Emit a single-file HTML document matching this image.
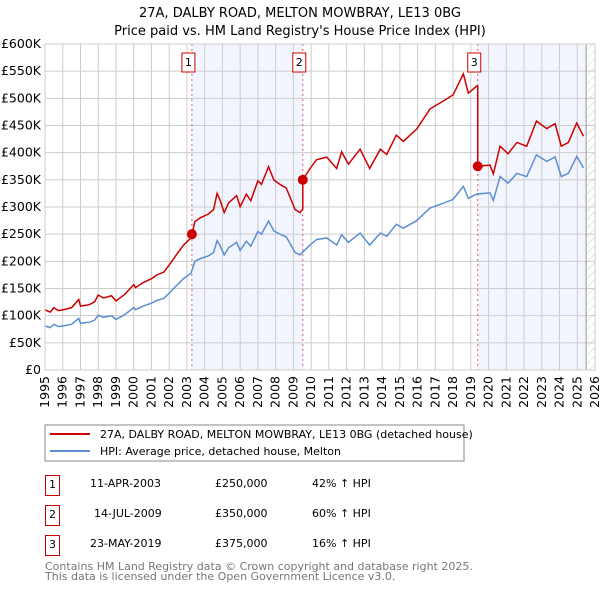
<!DOCTYPE html>
<html><head><meta charset="utf-8"><style>
body{margin:0;background:#fff;font-family:"DejaVu Sans","Liberation Sans",sans-serif;}
svg text{font-family:"DejaVu Sans","Liberation Sans",sans-serif;}
</style></head><body>
<svg id="c" width="600" height="590" xmlns="http://www.w3.org/2000/svg">
<defs><pattern id="hatch" width="6" height="6" patternUnits="userSpaceOnUse" patternTransform="rotate(45)"><line x1="0" y1="0" x2="0" y2="6" stroke="#ccc" stroke-width="1"/></pattern></defs>
<text x="300" y="17" text-anchor="middle" font-size="13">27A, DALBY ROAD, MELTON MOWBRAY, LE13 0BG</text>
<text x="300" y="35" text-anchor="middle" font-size="13">Price paid vs. HM Land Registry's House Price Index (HPI)</text>
<g id="plot"></g>
<rect x="45" y="425" width="419" height="36" fill="#fff" stroke="#888"/>
<line x1="50" y1="434" x2="90" y2="434" stroke="#cc0000" stroke-width="2"/>
<text x="100" y="438" font-size="11">27A, DALBY ROAD, MELTON MOWBRAY, LE13 0BG (detached house)</text>
<line x1="50" y1="451" x2="90" y2="451" stroke="#5b8fd0" stroke-width="2"/>
<text x="100" y="455" font-size="11">HPI: Average price, detached house, Melton</text>
<g font-size="11">
<rect x="45.5" y="475.5" width="14" height="20" fill="none" stroke="#cc0000"/><text x="52.5" y="488" text-anchor="middle">1</text>
<text x="90" y="487">11-APR-2003</text><text x="215" y="487">£250,000</text><text x="312" y="487">42% ↑ HPI</text>
<rect x="45.5" y="505.5" width="14" height="20" fill="none" stroke="#cc0000"/><text x="52.5" y="518" text-anchor="middle">2</text>
<text x="94" y="517">14-JUL-2009</text><text x="215" y="517">£350,000</text><text x="312" y="517">60% ↑ HPI</text>
<rect x="45.5" y="535.5" width="14" height="20" fill="none" stroke="#cc0000"/><text x="52.5" y="548" text-anchor="middle">3</text>
<text x="90" y="547">23-MAY-2019</text><text x="215" y="547">£375,000</text><text x="312" y="547">16% ↑ HPI</text>
</g>
<text x="45" y="570" font-size="11" fill="#777">Contains HM Land Registry data © Crown copyright and database right 2025.</text>
<text x="45" y="580" font-size="11" fill="#777">This data is licensed under the Open Government Licence v3.0.</text>
</svg>
<script>
const hpiYears=[1995.0,1995.3,1995.5,1995.75,1996.0,1996.5,1996.9,1997.0,1997.5,1997.8,1998.0,1998.3,1998.75,1999.0,1999.5,2000.0,2000.1,2000.55,2001.0,2001.3,2001.7,2002.05,2002.4,2002.8,2003.23,2003.45,2003.75,2004.2,2004.5,2004.7,2004.85,2005.1,2005.35,2005.8,2006.0,2006.35,2006.6,2007.0,2007.2,2007.6,2007.9,2008.25,2008.6,2009.1,2009.37,2009.94,2010.3,2010.88,2011.44,2011.72,2012.1,2012.76,2013.3,2013.9,2014.26,2014.8,2015.2,2015.95,2016.7,2017.45,2018.0,2018.58,2018.86,2019.33,2020.08,2020.27,2020.65,2021.1,2021.6,2022.15,2022.7,2023.28,2023.75,2024.1,2024.5,2024.97,2025.35];
const hpiValues=[81,78,84,80,81,84,95,86,88,92,101,97,100,93,102,115,111,118,123,128,132,143,155,168,178,200,205,210,216,238,230,212,225,235,220,237,228,255,250,274,256,250,245,216,212,230,240,243,230,249,235,252,230,252,246,268,261,275,298,307,314,338,316,324,326,312,356,344,362,356,396,384,392,356,362,393,372];
const saleYears=[2003.28,2009.53,2019.39];
const salePrices=[250,350,375];
const saleLabels=["1","2","3"];
const yTicks=[0,50,100,150,200,250,300,350,400,450,500,550,600];
const yTickLabels=["£0","£50K","£100K","£150K","£200K","£250K","£300K","£350K","£400K","£450K","£500K","£550K","£600K"];
const xTicks=[1995,1996,1997,1998,1999,2000,2001,2002,2003,2004,2005,2006,2007,2008,2009,2010,2011,2012,2013,2014,2015,2016,2017,2018,2019,2020,2021,2022,2023,2024,2025,2026];
const dataEnd=2025.5;

const L=45,R=595,T=44,B=370,X0=1995,X1=2026,YMAX=600;
const sx=y=>L+(y-X0)/(X1-X0)*(R-L);
const sy=v=>B-v/YMAX*(B-T);
const NS="http://www.w3.org/2000/svg";
const g=document.getElementById('plot');
function mk(t,a){const e=document.createElementNS(NS,t);for(const k in a)e.setAttribute(k,a[k]);g.appendChild(e);return e;}
function hpiAt(y){for(let i=0;i<hpiYears.length-1;i++){if(y<=hpiYears[i+1]){const f=(y-hpiYears[i])/(hpiYears[i+1]-hpiYears[i]);return hpiValues[i]+f*(hpiValues[i+1]-hpiValues[i]);}}return hpiValues[hpiValues.length-1];}

let e;
e=mk('rect',{x:sx(saleYears[0]),y:T,width:sx(saleYears[1])-sx(saleYears[0]),height:B-T,fill:'#f2f5fd'});


e=mk('rect',{x:sx(saleYears[2]),y:T,width:sx(dataEnd)-sx(saleYears[2]),height:B-T,fill:'#f2f5fd'});


e=mk('rect',{x:sx(dataEnd),y:T,width:R-sx(dataEnd),height:B-T,fill:'url(#hatch)'});


yTicks.forEach((v,i)=>{
 e=mk('line',{x1:L,x2:R,y1:sy(v),y2:sy(v),stroke:'#ccc','stroke-width':1});
 
 
 e=mk('text',{x:L-4,y:sy(v)+4,'text-anchor':'end','font-size':12.5});
 e.textContent=yTickLabels[i];
 
 
});
xTicks.forEach(v=>{
 e=mk('line',{x1:sx(v),x2:sx(v),y1:T,y2:B,stroke:'#ccc','stroke-width':1});
 
 
 e=mk('text',{x:0,y:0,'text-anchor':'end','font-size':12.5,transform:`translate(${sx(v)+4},${B+6}) rotate(-90)`});
 e.textContent=v;
 
 
});
e=mk('line',{x1:sx(dataEnd),x2:sx(dataEnd),y1:T,y2:B,stroke:'#999','stroke-width':1});


saleYears.forEach((y,i)=>{
 e=mk('line',{x1:sx(y),x2:sx(y),y1:T,y2:B,stroke:'#e06060','stroke-width':1,'stroke-dasharray':'2,3'});
 
 
 e=mk('rect',{x:sx(y)-10,y:53,width:13,height:19,fill:'#fff',stroke:'#cc0000'});
 
 
 e=mk('text',{x:sx(y)-3.5,y:66,'text-anchor':'middle','font-size':11});
 e.textContent=saleLabels[i];
 
 
});
e=mk('polyline',{points:hpiYears.map((y,i)=>sx(y)+','+sy(hpiValues[i])).join(' '),fill:'none',stroke:'#5b8fd0','stroke-width':1.5});


const factors=saleYears.map((y,i)=>salePrices[i]/hpiAt(y));
const redPts=[];
hpiYears.forEach((y,i)=>{
 let k=0;for(let j=0;j<saleYears.length;j++)if(y>=saleYears[j])k=j;
 saleYears.forEach((sy0,j)=>{if(j>0&&redPts.length&&redPts[redPts.length-1][0]<sy0&&y>=sy0){redPts.push([sy0,hpiAt(sy0)*factors[j-1]]);redPts.push([sy0,salePrices[j]]);}});
 redPts.push([y,hpiValues[i]*factors[k]]);
});
e=mk('polyline',{points:redPts.map(p=>sx(p[0])+','+sy(p[1])).join(' '),fill:'none',stroke:'#cc0000','stroke-width':1.5});


saleYears.forEach((y,i)=>{
 e=mk('circle',{cx:sx(y),cy:sy(salePrices[i]),r:5,fill:'#cc0000'});
 
 
});
e=mk('rect',{x:L,y:T,width:R-L,height:B-T,fill:'none',stroke:'#ccc'});


</script>
</body></html>
